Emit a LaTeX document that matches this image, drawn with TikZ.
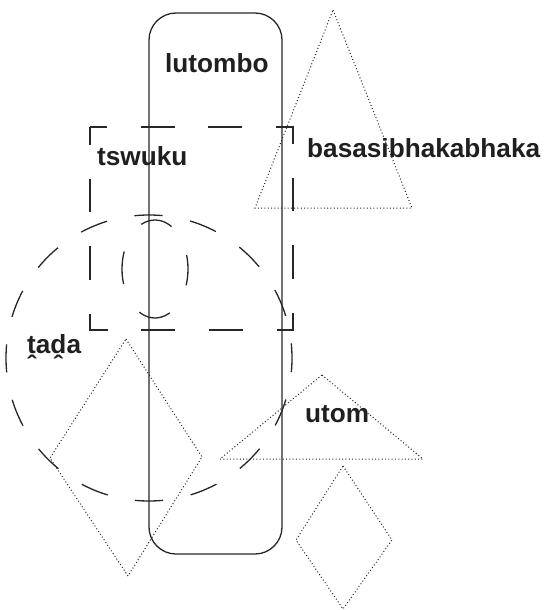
\documentclass[tikz,border=0pt]{standalone}
\usepackage{fontspec}
\setmainfont{Liberation Sans}
\tikzset{
    shapeline/.style={line width=1.3pt, draw=black!85},
    longdash/.style={shapeline, dash pattern=on 33.8pt off 33.8pt, dash phase=16.9pt},
    circdash/.style={shapeline, dash pattern=on 28.06pt off 28.06pt, dash phase=14.03pt},
    ovaldash/.style={shapeline, dash pattern=on 32.8pt off 32.8pt, dash phase=16.4pt},
    dotline/.style={line width=1pt, draw=black!85, dash pattern=on 1pt off 2.3pt},
    label/.style={anchor=base west, inner sep=0pt, text=black!88,
        font=\fontsize{26.2pt}{31pt}\selectfont\bfseries},
}
\begin{document}
\begin{tikzpicture}[x=1pt,y=-1pt]
    \useasboundingbox (0,0) rectangle (545,610);

    \draw [shapeline, rounded corners=27pt]
        (149,13) rectangle (282,554)
        ;

    \draw [longdash]
        (90,127) -- (293,127) -- (293,330) -- (90,330) -- cycle
        ;

    \draw [circdash]
        (149,358) circle (143)
        ;

    \draw [ovaldash]
        (155,269) ellipse (33 and 49)
        ;

    \draw [dotline]
        (333,10) -- (412,208) -- (255,208) -- cycle
        (322,375) -- (423,459) -- (220,459) -- cycle
        (126,339) -- (202,457) -- (128,576) -- (50,458) -- cycle
        (343,466) -- (392,540) -- (343,609) -- (296,540) -- cycle
        ;

    \node [label] (lutombo) at (165,73) {lutombo};
    \node [label] (basasi) at (307,157) {basasibhakabhaka};
    \node [label] (tswuku) at (97,165) {tswuku};
    \node [label] (tada) at (27,353) {ṱaḓa};
    \node [label] (utom) at (305,422) {utom};
\end{tikzpicture}
\end{document}
